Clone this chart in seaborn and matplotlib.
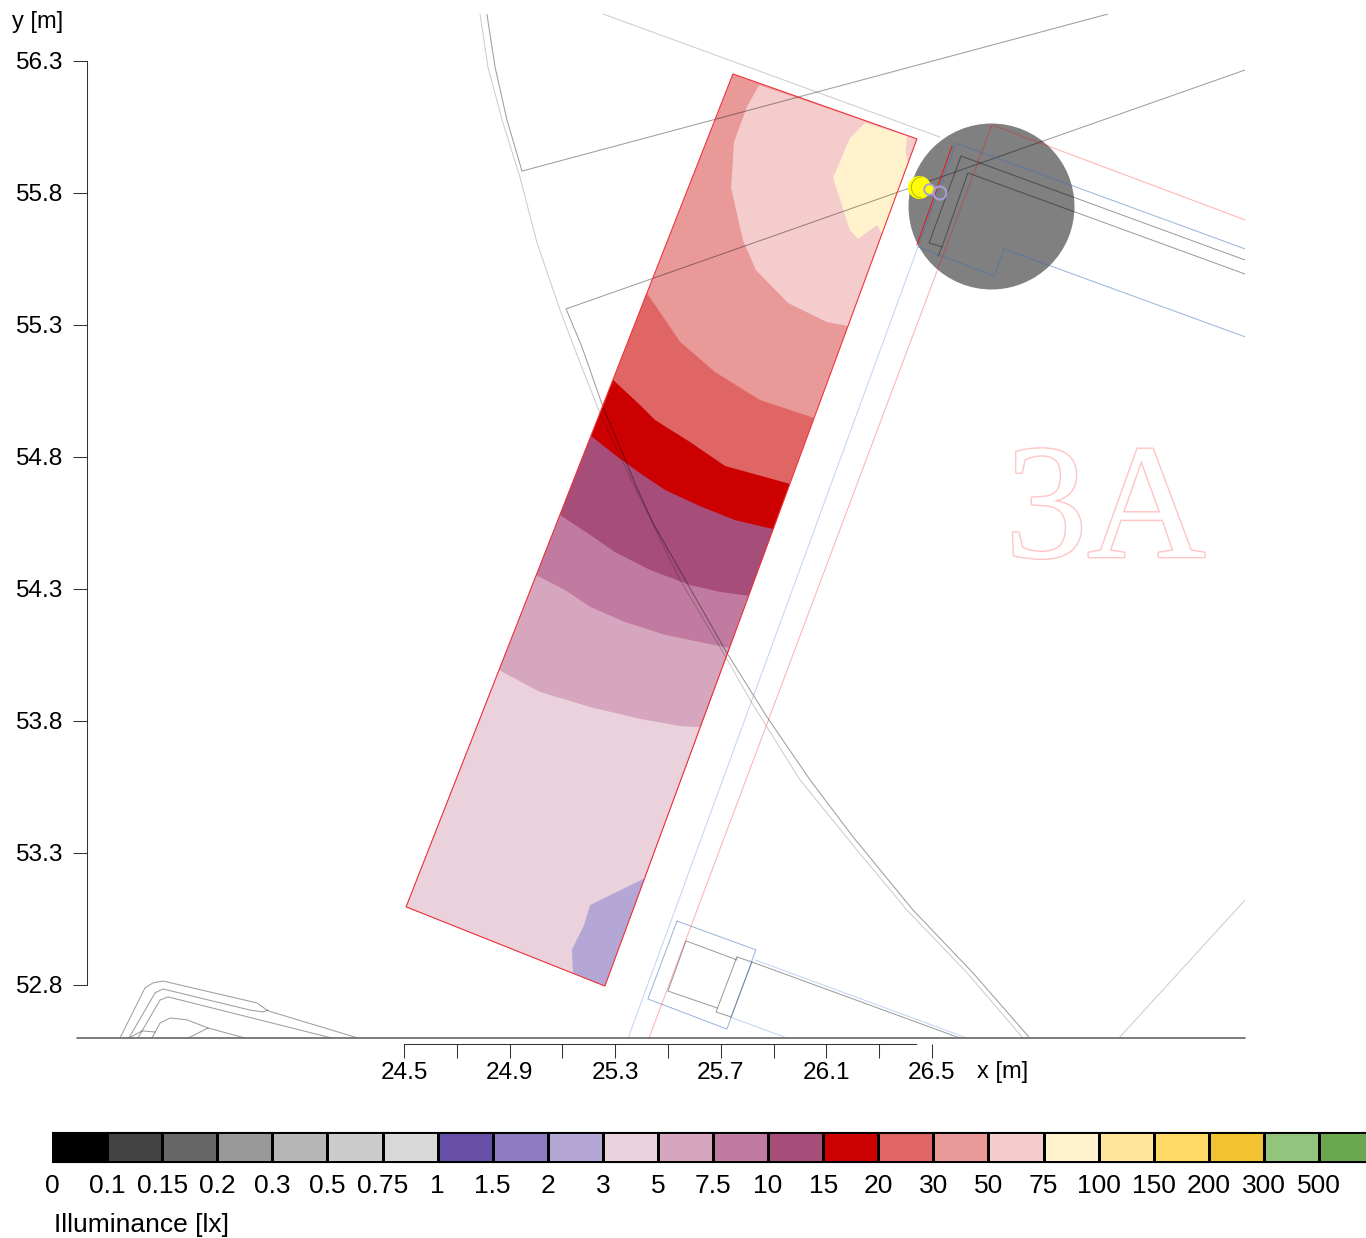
import numpy as np
import seaborn as sns
import matplotlib
matplotlib.use('Agg')
import matplotlib.pyplot as plt
from matplotlib.colors import ListedColormap
from matplotlib.patches import Arc
import matplotlib.patheffects as path_effects

sns.set_theme(style="ticks")
plt.rcParams['font.family'] = ['Liberation Sans', 'DejaVu Sans']

# colour scale
scale_labels = ['0', '0.1', '0.15', '0.2', '0.3', '0.5', '0.75', '1', '1.5', '2', '3', '5',
                '7.5', '10', '15', '20', '30', '50', '75', '100', '150', '200', '300', '500']
scale_colors = ['#000000', '#434343', '#666666', '#999999', '#b7b7b7', '#cccccc', '#d9d9d9', '#674ea7',
                '#8e7cc3', '#b4a7d6', '#ead1dc', '#d5a6bd', '#c27ba0', '#a64d79', '#cc0000', '#e06666',
                '#ea9999', '#f4cccc', '#fff2cc', '#ffe599', '#ffd966', '#f1c232', '#93c47d', '#6aa84f']

# ticks
x_ticks = [24.5, 24.7, 24.9, 25.1, 25.3, 25.5, 25.7, 25.9, 26.1, 26.3, 26.5]
x_tick_labels = ['24.5', '', '24.9', '', '25.3', '', '25.7', '', '26.1', '', '26.5']
y_ticks = [52.8, 53.3, 53.8, 54.3, 54.8, 55.3, 55.8, 56.3]

# calculation area corners (metres)
area_x = [25.746, 26.443, 25.261, 24.508]
area_y = [56.251, 56.005, 52.796, 53.096]

# iso lines across the area, left edge to right edge
iso_30_x = [25.420, 25.546, 25.678, 25.848, 26.053]
iso_30_y = [55.421, 55.236, 55.122, 55.016, 54.948]
iso_20_x = [25.292, 25.394, 25.451, 25.583, 25.716, 25.962]
iso_20_y = [55.092, 54.997, 54.940, 54.857, 54.766, 54.698]
iso_15_x = [25.208, 25.299, 25.394, 25.489, 25.621, 25.754, 25.898]
iso_15_y = [54.880, 54.808, 54.739, 54.675, 54.614, 54.561, 54.527]
iso_10_x = [25.091, 25.205, 25.299, 25.432, 25.583, 25.697, 25.807]
iso_10_y = [54.580, 54.505, 54.440, 54.372, 54.315, 54.289, 54.274]
iso_75_x = [25.000, 25.110, 25.205, 25.337, 25.489, 25.621, 25.731]
iso_75_y = [54.353, 54.296, 54.232, 54.175, 54.126, 54.099, 54.077]
iso_5_x = [24.860, 25.015, 25.205, 25.394, 25.546, 25.621]
iso_5_y = [53.993, 53.910, 53.853, 53.808, 53.781, 53.777]

# closed regions
zone_50_x = [25.845, 25.799, 25.750, 25.739, 25.784, 25.833, 25.955, 26.102, 26.182, 26.443]
zone_50_y = [56.209, 56.126, 55.993, 55.819, 55.622, 55.508, 55.383, 55.311, 55.296, 56.005]
zone_75_x = [26.246, 26.189, 26.125, 26.189, 26.220, 26.292, 26.311, 26.409, 26.401, 26.405]
zone_75_y = [56.065, 56.008, 55.857, 55.660, 55.626, 55.679, 55.645, 55.914, 55.952, 56.016]
zone_2_x = [25.413, 25.299, 25.205, 25.182, 25.136, 25.140, 25.261]
zone_2_y = [53.205, 53.149, 53.103, 53.027, 52.933, 52.846, 52.796]

# luminaire and observer points
lum_x, lum_y = 26.7235, 55.750
obs_x = [26.451, 26.489, 26.530]
obs_y = [55.823, 55.815, 55.800]

# plan lines, dark grey
arc_a_x = [24.814, 24.845, 24.890, 24.947, 27.167]
arc_a_y = [56.478, 56.277, 56.077, 55.883, 56.478]
arc_c_x = [27.686, 25.114, 25.174, 25.254, 25.307, 25.386, 25.443, 25.572, 25.723, 25.875, 26.038, 26.201,
           26.428, 26.655, 26.867]
arc_c_y = [56.266, 55.361, 55.217, 54.989, 54.864, 54.675, 54.550, 54.323, 54.058, 53.815, 53.577, 53.361,
           53.084, 52.846, 52.603]
wall_x = [27.686, 26.610, 26.489, 26.538, 26.636, 27.686]
wall_y = [55.546, 55.940, 55.611, 55.596, 55.876, 55.493]
wall_end_x = [26.538, 26.523]
wall_end_y = [55.596, 55.561]
box_in_x = [25.761, 25.568, 25.500, 25.686]
box_in_y = [52.895, 52.967, 52.777, 52.713]
box_side_x = [25.761, 25.818, 25.739, 25.682, 25.761]
box_side_y = [52.906, 52.887, 52.679, 52.698, 52.906]
box_tail_x = [25.818, 26.606]
box_tail_y = [52.887, 52.599]
road1_x = [23.424, 23.519, 23.549, 23.587, 23.943, 23.985, 24.326]
road1_y = [52.599, 52.789, 52.808, 52.815, 52.732, 52.702, 52.599]
road2_x = [23.458, 23.557, 23.587, 23.917, 23.966, 23.985]
road2_y = [52.599, 52.770, 52.785, 52.705, 52.698, 52.705]
road3_x = [23.492, 23.576, 23.606, 24.227]
road3_y = [52.599, 52.743, 52.755, 52.599]
road4_x = [23.545, 23.576, 23.614, 23.678, 23.758, 23.898]
road4_y = [52.599, 52.656, 52.675, 52.668, 52.637, 52.599]
road5_x = [23.458, 23.508, 23.557]
road5_y = [52.599, 52.626, 52.622]
road6_x = [23.682, 23.758]
road6_y = [52.599, 52.637]

# plan lines, light grey
arc_b_x = [24.788, 24.818, 24.875, 24.939, 25.004, 25.091, 25.167, 25.242, 25.356, 25.546, 25.697, 25.818,
           26.000, 26.216, 26.405, 26.633, 26.841]
arc_b_y = [56.478, 56.277, 56.065, 55.861, 55.611, 55.357, 55.156, 54.967, 54.724, 54.334, 54.080, 53.868,
           53.577, 53.311, 53.084, 52.846, 52.603]
diag_x = [25.254, 26.530]
diag_y = [56.478, 56.012]
corner_x = [27.686, 27.208]
corner_y = [53.122, 52.599]

# plan lines, blue
house_x = [27.686, 26.773, 26.735, 26.447, 26.591, 27.686]
house_y = [55.255, 55.588, 55.486, 55.596, 55.989, 55.588]
box_out_x = [25.534, 25.833, 25.723, 25.424, 25.534]
box_out_y = [53.042, 52.933, 52.633, 52.747, 53.042]
kerb_x = [26.447, 25.349]
kerb_y = [55.596, 52.599]
tail1_x = [25.830, 26.633]
tail1_y = [52.895, 52.599]
tail2_x = [25.735, 25.951]
tail2_y = [52.679, 52.599]

# plan lines, red
plot_x = [27.686, 26.727, 25.428]
plot_y = [55.698, 56.058, 52.599]
edge_x = [26.576, 26.443]
edge_y = [55.978, 55.603]

W, H = 1366, 1238
tick_size = 17.6
label_size = 17
scale_size = 19

fig = plt.figure(figsize=(W / 100, H / 100), dpi=100)
ax = fig.add_axes([77 / W, 1 - 1038 / H, 1168 / W, 1024 / H])
ax.set_xlim(23.2614, 27.6856)
ax.set_ylim(52.5992, 56.4780)

# filled bands, each one painted from its iso line down to the end of the area
ax.fill(area_x, area_y, color='#ea9999', lw=0, zorder=1)
bands = [(iso_30_x, iso_30_y, '#e06666'), (iso_20_x, iso_20_y, '#cc0000'), (iso_15_x, iso_15_y, '#a64d79'),
         (iso_10_x, iso_10_y, '#c27ba0'), (iso_75_x, iso_75_y, '#d5a6bd'), (iso_5_x, iso_5_y, '#ead1dc')]
for bx, by, c in bands:
    ax.fill(bx + area_x[2:], by + area_y[2:], color=c, lw=0, zorder=1)
ax.fill(zone_50_x, zone_50_y, color='#f4cccc', lw=0, zorder=1)
ax.fill(zone_75_x, zone_75_y, color='#fff2cc', lw=0, zorder=1)
ax.fill(zone_2_x, zone_2_y, color='#b4a7d6', lw=0, zorder=1)

sns.scatterplot(x=[lum_x], y=[lum_y], s=14280, color='#808080', linewidth=0, ax=ax, zorder=2)

# background plan
for lx, ly in [(arc_a_x, arc_a_y), (arc_c_x, arc_c_y), (wall_x, wall_y), (wall_end_x, wall_end_y),
               (box_in_x, box_in_y), (box_side_x, box_side_y), (box_tail_x, box_tail_y), (road1_x, road1_y),
               (road2_x, road2_y), (road3_x, road3_y), (road4_x, road4_y), (road5_x, road5_y), (road6_x, road6_y)]:
    ax.plot(lx, ly, color='black', alpha=0.38, lw=0.75, zorder=3)
for lx, ly in [(arc_b_x, arc_b_y), (diag_x, diag_y), (corner_x, corner_y)]:
    ax.plot(lx, ly, color='black', alpha=0.2, lw=0.75, zorder=3)
for lx, ly in [(house_x, house_y), (box_out_x, box_out_y)]:
    ax.plot(lx, ly, color='#3d6fb5', alpha=0.5, lw=0.75, zorder=3)
for lx, ly in [(kerb_x, kerb_y), (tail1_x, tail1_y), (tail2_x, tail2_y)]:
    ax.plot(lx, ly, color='#3d78d8', alpha=0.3, lw=0.75, zorder=3)
ax.plot(plot_x, plot_y, color='red', alpha=0.3, lw=0.75, zorder=3)
ax.plot(edge_x, edge_y, color='red', alpha=0.8, lw=0.75, zorder=3)

# area border
ax.fill(area_x, area_y, facecolor='none', edgecolor='#f0353d', lw=0.8, zorder=4)

# observers
sns.scatterplot(x=obs_x[:1], y=obs_y[:1], s=275, color='#ffff00', linewidth=0, ax=ax, zorder=5)
ax.add_patch(Arc((obs_x[0] + 0.011, obs_y[0] - 0.002), 0.08, 0.08, theta1=90, theta2=270,
                 edgecolor='#a8a800', lw=0.6, zorder=6))
sns.scatterplot(x=obs_x[1:2], y=obs_y[1:2], s=58, color='#ffff00', edgecolor='#a79fd8', linewidth=1.4,
                ax=ax, zorder=6)
sns.scatterplot(x=obs_x[2:], y=obs_y[2:], s=88, facecolor='none', edgecolor='#a79fd8', linewidth=1.5,
                ax=ax, zorder=6)

txt = ax.text(27.157, 54.421, '3A', fontfamily='Liberation Serif', fontsize=118, color='white',
              ha='center', va='baseline', zorder=0.5)
txt.set_path_effects([path_effects.withStroke(linewidth=2, foreground='#ffc4c4')])

# axes
for side in ['top', 'right']:
    ax.spines[side].set_visible(False)
ax.spines['left'].set_position(('axes', 10 / 1168))
ax.spines['left'].set_bounds(y_ticks[0], y_ticks[-1])
ax.spines['bottom'].set_position(('outward', 4.3))
ax.spines['bottom'].set_bounds(x_ticks[0], 26.439)
for side in ['left', 'bottom']:
    ax.spines[side].set_linewidth(0.75)
    ax.spines[side].set_color('#333333')
ax.set_xticks(x_ticks)
ax.set_xticklabels(x_tick_labels)
ax.set_yticks(y_ticks)
ax.set_yticklabels([str(v) for v in y_ticks])
ax.tick_params(axis='both', length=10, width=0.75, color='#333333', labelsize=tick_size, labelcolor='black')
ax.tick_params(axis='x', pad=3)
ax.tick_params(axis='y', pad=7.5)
ax.plot(ax.get_xlim(), [ax.get_ylim()[0]] * 2, color='#666666', lw=1.2, clip_on=False, zorder=7)
ax.patch.set_alpha(0)

fig.text(977 / W, 1 - 1072 / H, 'x [m]', fontsize=label_size, va='center', color='black')
fig.text(12 / W, 1 - 22 / H, 'y [m]', fontsize=label_size, va='center', color='black')
fig.text(54 / W, 1 - 1225 / H, 'Illuminance [lx]', fontsize=scale_size, va='center', color='black')

# colour scale, last cell runs off the page like in the original
cax = fig.add_axes([52 / W, 1 - 1161.5 / H, 1322 / W, 30 / H])
sns.heatmap(np.arange(len(scale_colors)).reshape(1, -1), cmap=ListedColormap(scale_colors), cbar=False,
            linewidths=0.8, linecolor='black', yticklabels=False, ax=cax)
cax.set_xticks(np.arange(len(scale_labels)))
cax.set_xticklabels(scale_labels, rotation=0)
cax.tick_params(axis='x', length=0, pad=9, labelsize=scale_size, labelcolor='black')
for spine in ['top', 'bottom']:
    cax.spines[spine].set_visible(True)
    cax.spines[spine].set_color('black')
    cax.spines[spine].set_linewidth(0.8)

fig.savefig('out.png', dpi=100)
